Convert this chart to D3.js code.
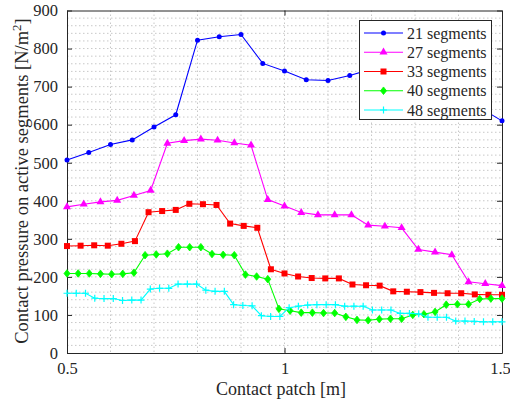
<!DOCTYPE html>
<html>
<head>
<meta charset="utf-8">
<script src="https://cdn.jsdelivr.net/npm/d3@7"></script>
<style>
  html, body { margin: 0; padding: 0; background: #fff; }
  svg { display: block; }
  svg text { font-family: "Liberation Serif", "DejaVu Serif", "Times New Roman", serif; fill: #262626; }
</style>
</head>
<body>
<svg id="chart" width="510" height="400"></svg>
<script>
// Contact pressure per segment count, sampled uniformly along the patch 0.5 .. 1.5 m
const seg21 = [507, 527, 548, 560, 594, 626, 822, 831, 837, 761, 741, 718, 716, 729,
               746, 758, 762, 752, 712, 644, 610];
const seg27 = [384, 391, 397, 401, 414, 427, 551, 558, 562, 559, 552, 546, 403, 386,
               369, 363, 363, 363, 336, 333, 329, 272, 265, 258, 187, 182, 177];
const seg33 = [281, 282, 283, 282, 287, 294, 370, 373, 376, 392, 391, 389, 340, 334,
               329, 220, 209, 201, 197, 196, 196, 180, 178, 177, 162, 161, 160, 158,
               157, 157, 154, 153, 153];
const seg40 = [209, 209, 209, 208, 207, 208, 211, 257, 259, 261, 278, 278, 278, 260,
               258, 257, 206, 201, 194, 116, 111, 106, 106, 105, 105, 95, 87, 86, 89,
               90, 90, 100, 102, 108, 127, 128, 128, 142, 143, 143];
const seg48 = [157, 157, 157, 144, 143, 143, 138, 139, 139, 168, 170, 170, 181, 181,
               181, 165, 162, 162, 127, 125, 124, 98, 96, 96, 119, 123, 126, 127, 127,
               127, 123, 123, 123, 113, 113, 113, 104, 104, 103, 94, 94, 94, 84, 84,
               83, 82, 82, 82];

const seriesNames = ["21 segments", "27 segments", "33 segments", "40 segments", "48 segments"];
const seriesValues = [seg21, seg27, seg33, seg40, seg48];
const seriesColors = ["#0000ff", "#ff00ff", "#ff0000", "#00ff00", "#00ffff"];
const seriesMarkers = ["dot", "triangle", "square", "diamond", "plus"];

const xTicks = [0.5, 1, 1.5];
const yTicks = [0, 100, 200, 300, 400, 500, 600, 700, 800, 900];
const xRange = [0.5, 1.5];

const serif = '"Liberation Serif", "DejaVu Serif", "Times New Roman", serif';
const svg = d3.select("#chart");
const plotL = 67, plotR = 502, plotT = 10.5, plotB = 353;

const x = d3.scaleLinear().domain(xRange).range([plotL, plotR]);
const y = d3.scaleLinear().domain([0, 900]).range([plotB, plotT]);

// dotted grid (minor spacing)
const grid = svg.append("g");
d3.range(0.6, 1.45, 0.1).forEach(v => {
  grid.append("line")
    .attr("x1", x(v)).attr("x2", x(v)).attr("y1", plotT).attr("y2", plotB)
    .attr("stroke", "#c8c8c8").attr("stroke-width", 1).attr("stroke-dasharray", "1.5,2.5");
});
d3.range(20, 900, 20).forEach(v => {
  grid.append("line")
    .attr("x1", plotL).attr("x2", plotR).attr("y1", y(v)).attr("y2", y(v))
    .attr("stroke", "#c8c8c8").attr("stroke-width", 1).attr("stroke-dasharray", "1.5,2.5");
});

// axes with inward ticks
const axisColor = "#262626";
const xAxisB = d3.axisBottom(x).tickValues(xTicks).tickSizeInner(-5).tickSizeOuter(0)
  .tickPadding(9).tickFormat(d3.format("~g"));
const xAxisT = d3.axisTop(x).tickValues(xTicks).tickSizeInner(-5).tickSizeOuter(0).tickFormat("");
const yAxisL = d3.axisLeft(y).tickValues(yTicks).tickSizeInner(-5).tickSizeOuter(0).tickPadding(9);
const yAxisR = d3.axisRight(y).tickValues(yTicks).tickSizeInner(-5).tickSizeOuter(0).tickFormat("");

function styleAxis(g) {
  g.attr("font-family", serif);
  g.select(".domain").attr("stroke", axisColor).attr("stroke-width", 1);
  g.selectAll(".tick line").attr("stroke", axisColor).attr("stroke-width", 1);
  g.selectAll(".tick text").style("font-family", serif)
    .style("font-size", "16.5px").attr("fill", "#262626");
}
const gxB = svg.append("g").attr("transform", `translate(0,${plotB})`).call(xAxisB).call(styleAxis);
gxB.selectAll(".tick text").filter(d => d === 1.5).attr("dx", -2);
svg.append("g").attr("transform", `translate(0,${plotT})`).call(xAxisT).call(styleAxis);
svg.append("g").attr("transform", `translate(${plotL},0)`).call(yAxisL).call(styleAxis);
svg.append("g").attr("transform", `translate(${plotR},0)`).call(yAxisR).call(styleAxis);

// markers
function drawMarker(g, type, color, cx, cy) {
  if (type === "dot") {
    g.append("circle").attr("cx", cx).attr("cy", cy).attr("r", 2.5).attr("fill", color);
  } else if (type === "triangle") {
    g.append("path").attr("d", d3.symbol(d3.symbolTriangle, 28)())
      .attr("transform", `translate(${cx},${cy})`).attr("fill", color);
  } else if (type === "square") {
    g.append("rect").attr("x", cx - 3).attr("y", cy - 3).attr("width", 6).attr("height", 6)
      .attr("fill", color);
  } else if (type === "diamond") {
    g.append("path").attr("d", `M0,-3.8L3,0L0,3.8L-3,0Z`)
      .attr("transform", `translate(${cx},${cy})`).attr("fill", color)
      .attr("stroke", color).attr("stroke-width", 0.8);
  } else if (type === "plus") {
    g.append("path").attr("d", `M-3.5,0H3.5M0,-3.5V3.5`)
      .attr("transform", `translate(${cx},${cy})`).attr("stroke", color).attr("stroke-width", 1.2)
      .attr("fill", "none");
  }
}

// series
const line = d3.line().x(d => x(d[0])).y(d => y(d[1]));
seriesValues.forEach((vals, i) => {
  const n = vals.length;
  const pts = vals.map((v, k) => [xRange[0] + (xRange[1] - xRange[0]) * k / (n - 1), v]);
  const g = svg.append("g");
  g.append("path").datum(pts).attr("d", line)
    .attr("fill", "none").attr("stroke", seriesColors[i]).attr("stroke-width", 1.1);
  pts.forEach(p => drawMarker(g, seriesMarkers[i], seriesColors[i], x(p[0]), y(p[1])));
});

// legend
const lg = svg.append("g");
lg.append("rect").attr("x", 359.5).attr("y", 20.5).attr("width", 132).attr("height", 99)
  .attr("fill", "#fff").attr("stroke", "#262626").attr("stroke-width", 1);
seriesNames.forEach((name, i) => {
  const cy = 33 + i * 19.25;
  lg.append("line").attr("x1", 364).attr("x2", 403).attr("y1", cy).attr("y2", cy)
    .attr("stroke", seriesColors[i]).attr("stroke-width", 1.1);
  drawMarker(lg, seriesMarkers[i], seriesColors[i], 383.5, cy);
  lg.append("text").attr("x", 407).attr("y", cy).attr("dy", "0.35em")
    .style("font-family", serif).style("font-size", "16px").text(name);
});

// axis titles
svg.append("text").attr("x", 281).attr("y", 395)
  .attr("text-anchor", "middle").style("font-family", serif).style("font-size", "18px")
  .text("Contact patch [m]");

const yl = svg.append("text")
  .attr("transform", `translate(28,181) rotate(-90)`)
  .attr("text-anchor", "middle").style("font-family", serif).style("font-size", "18.5px");
yl.append("tspan").text("Contact pressure on active segments [N/m");
yl.append("tspan").attr("dy", -7).style("font-size", "13px").text("2");
yl.append("tspan").attr("dy", 7).text("]");
</script>
</body>
</html>
